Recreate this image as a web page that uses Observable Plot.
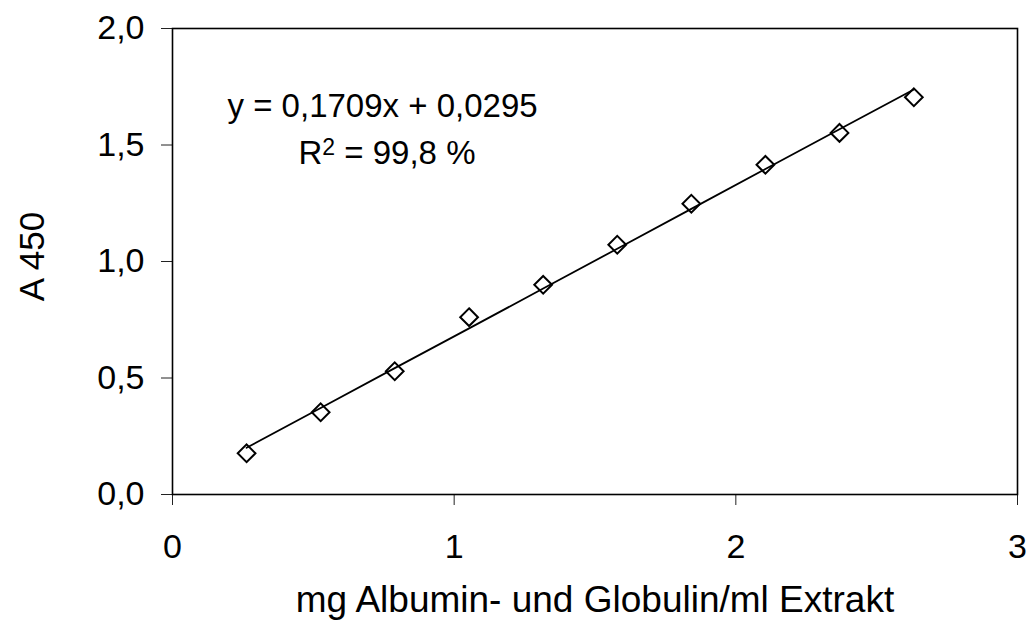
<!DOCTYPE html>
<html>
<head>
<meta charset="utf-8">
<script src="https://cdn.jsdelivr.net/npm/d3@7"></script>
<script src="https://cdn.jsdelivr.net/npm/@observablehq/plot@0.6"></script>
<style>
  html, body { margin: 0; padding: 0; background: #fff; }
</style>
</head>
<body>
<div id="chart"></div>
<script>
// Standard series: protein concentration (mg/ml) and absorbance at 450 nm
const concentration = [0.263, 0.526, 0.789, 1.053, 1.316, 1.579, 1.842, 2.105, 2.368, 2.632];
const absorbance = [0.177, 0.353, 0.529, 0.761, 0.900, 1.072, 1.248, 1.415, 1.552, 1.705];

// Linear fit over the dilution step number (1..10)
const fitSlope = 0.1709;
const fitIntercept = 0.0295;
const fitR2 = 99.8;

const xTicks = [0, 1, 2, 3];
const yTicks = [0, 0.5, 1, 1.5, 2];

const xTitle = "mg Albumin- und Globulin/ml Extrakt";
const yTitle = "A 450";

const comma = (v, digits) => v.toFixed(digits).replace(".", ",");

const points = concentration.map((c, i) => ({c, a: absorbance[i]}));
const fitLine = concentration.map((c, i) => ({c, a: fitSlope * (i + 1) + fitIntercept}));

const eqLabel = `y = ${comma(fitSlope, 4)}x + ${comma(fitIntercept, 4)}`;
const r2Label = `R2 = ${comma(fitR2, 1)} %`;

const font = "'Liberation Sans', Arial, Helvetica, sans-serif";

const svg = Plot.plot({
  width: 1029,
  height: 623,
  marginLeft: 172,
  marginRight: 12,
  marginTop: 28,
  marginBottom: 129,
  style: {fontFamily: font, color: "black", background: "white", overflow: "visible"},
  x: {domain: [0, 3]},
  y: {domain: [0, 2]},
  marks: [
    Plot.axisX({ticks: xTicks, tickSize: 11, tickPadding: 28, fontSize: 34, label: null,
      tickFormat: d => String(d), stroke: "#222", fill: "black"}),
    Plot.axisY({ticks: yTicks, tickSize: 11, tickPadding: 17, fontSize: 34, label: null,
      tickFormat: d => comma(d, 1), stroke: "#222", fill: "black"}),
    Plot.frame({stroke: "black", strokeWidth: 1.6}),
    Plot.line(fitLine, {x: "c", y: "a", stroke: "black", strokeWidth: 1.8}),
    Plot.dot(points, {x: "c", y: "a", symbol: "diamond2", r: 8, stroke: "black", strokeWidth: 2, fill: "none"}),
    Plot.text([eqLabel], {text: d => d, frameAnchor: "top-left", dx: 55, dy: 78, fontSize: 33,
      textAnchor: "start", lineAnchor: "middle", fill: "black"}),
    Plot.text([r2Label], {text: d => d, frameAnchor: "top-left", dx: 126, dy: 125, fontSize: 33,
      textAnchor: "start", lineAnchor: "middle", fill: "black"}),
    Plot.text([xTitle], {text: d => d, frameAnchor: "bottom", dy: 106, fontSize: 37,
      textAnchor: "middle", lineAnchor: "middle", fill: "black"}),
    Plot.text([yTitle], {text: d => d, frameAnchor: "left", dx: -140, dy: -5, rotate: -90, fontSize: 35,
      textAnchor: "middle", lineAnchor: "middle", fill: "black"})
  ]
});

// Render the exponent of R² as a raised, smaller figure
const r2Text = Array.from(svg.querySelectorAll("text")).find(t => t.textContent === r2Label);
if (r2Text) {
  const ns = "http://www.w3.org/2000/svg";
  r2Text.textContent = "";
  const base = document.createElementNS(ns, "tspan");
  base.textContent = "R";
  const sup = document.createElementNS(ns, "tspan");
  sup.textContent = "2";
  sup.setAttribute("font-size", "23");
  sup.setAttribute("dy", "-9.5");
  const rest = document.createElementNS(ns, "tspan");
  rest.textContent = ` = ${comma(fitR2, 1)} %`;
  rest.setAttribute("dy", "9.5");
  rest.setAttribute("font-size", "33");
  r2Text.append(base, sup, rest);
}

document.getElementById("chart").appendChild(svg);
</script>
</body>
</html>
